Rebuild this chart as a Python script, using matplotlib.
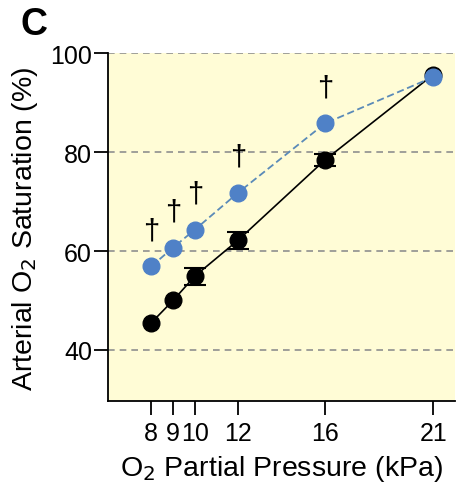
import matplotlib
matplotlib.use("Agg")
import matplotlib.pyplot as plt

plt.rcParams['font.family'] = ['Liberation Sans', 'DejaVu Sans']

pressure = [8, 9, 10, 12, 16, 21]
sat_black = [45.5, 50.0, 54.9, 62.2, 78.4, 95.7]
err_black = [0.0, 0.0, 1.7, 1.7, 1.3, 0.0]
sat_blue = [56.9, 60.7, 64.3, 71.8, 85.8, 95.2]
dagger_idx = [0, 1, 2, 3, 4]
xticks = [8, 9, 10, 12, 16, 21]
yticks = [40, 60, 80, 100]

fig = plt.figure(figsize=(4.58, 4.89), dpi=100)
ax = fig.add_axes([0.2358, 0.1773, 0.7577, 0.7117])
ax.set_facecolor('#FFFCD6')

for y in yticks:
    ax.axhline(y, color='#8F8F8F', lw=1.2, ls=(0, (4, 3)), zorder=1)

ax.plot(pressure, sat_black, color='black', lw=1.2,
        marker='o', ms=12, mfc='black', mec='black', zorder=3)
ex = [p for p, e in zip(pressure, err_black) if e > 0]
ey = [s for s, e in zip(sat_black, err_black) if e > 0]
ee = [e for e in err_black if e > 0]
ax.errorbar(ex, ey, yerr=ee, fmt='none', ecolor='black',
            elinewidth=1.5, capsize=8, capthick=1.5, zorder=3)
ax.plot(pressure, sat_blue, color='#5A8AB8', lw=1.3, ls=(0, (4, 2)),
        marker='o', ms=12, mfc='#4F81C7', mec='#4F81C7', zorder=4)

for i in dagger_idx:
    ax.text(pressure[i], sat_blue[i] + 7.3, '†', ha='center', va='center',
            fontsize=21, color='black', zorder=5)

ax.set_xlim(6, 22)
ax.set_ylim(29.6, 100)
ax.set_xticks(xticks)
ax.set_xticklabels([str(x) for x in xticks])
ax.set_yticks(yticks)

for s in ['top', 'right']:
    ax.spines[s].set_visible(False)
ax.spines['left'].set_linewidth(1.3)
ax.spines['bottom'].set_linewidth(1.3)
ax.tick_params(axis='both', labelsize=18, width=1.3, length=10, direction='out')
ax.tick_params(axis='y', pad=1.5)
ax.tick_params(axis='x', pad=4)

ax.set_xlabel('O$_2$ Partial Pressure (kPa)', fontsize=20.5, labelpad=6)
ax.set_ylabel('Arterial O$_2$ Saturation (%)', fontsize=20.5, labelpad=7)

fig.text(0.045, 0.985, 'C', fontsize=27, fontweight='bold', ha='left', va='top')

fig.savefig('out.png', dpi=100)
